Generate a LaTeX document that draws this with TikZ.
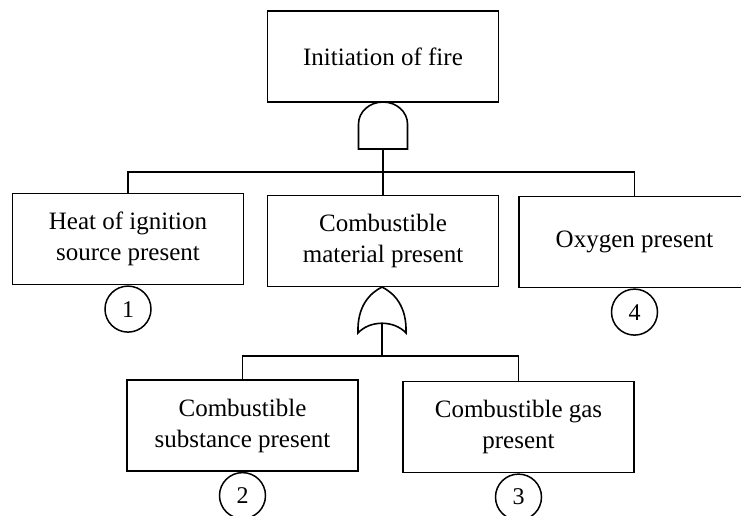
\documentclass[tikz,border=0pt]{standalone}
\usepackage{fontspec}
\setmainfont{Liberation Serif}
\usetikzlibrary{positioning}

\begin{document}
\begin{tikzpicture}[
    x=1pt, y=-1pt,
    event/.style={draw, line width=1.7pt, align=center, inner sep=2pt,
                  minimum width=231pt, minimum height=91pt,
                  font=\fontsize{25}{31}\selectfont},
    num/.style={draw, circle, line width=1.5pt, inner sep=0pt, minimum size=46pt,
                font=\fontsize{24}{24}\selectfont},
    gate/.style={draw, line width=1.6pt, fill=white},
    wire/.style={line width=1.6pt},
  ]
    \useasboundingbox (0,0) rectangle (741,516);
    \clip (0,0) rectangle (741,516);
    % ---- top event ----
    \node[event] (fire) at (383,56.5) {Initiation of fire};
    % ---- second level ----
    \node[event] (heat)     at (128,239)   {Heat of ignition\\source present};
    \node[event] (material) at (383,241)   {Combustible\\material present};
    \node[event] (oxygen)   at (634.5,242) {Oxygen present};
    % ---- third level ----
    \node[event] (substance) at (242.5,425.5) {Combustible\\substance present};
    \node[event] (gas)       at (518.5,427)   {Combustible gas\\present};
    % ---- basic event numbers ----
    \node[num, below=0pt of heat]      (n1) {1};
    \node[num, below=0pt of oxygen]    (n4) {4};
    \node[num, below=0pt of substance] (n2) {2};
    \node[num, below=0pt of gas]       (n3) {3};
    % ---- AND gate ----
    \coordinate (andout)  at (383,149);
    \coordinate (andjoin) at (383,172);
    \draw[gate] (358.5,149) -- (358.5,124)
        arc[start angle=180, end angle=360, x radius=24.5, y radius=22]
        -- (407.5,149) -- cycle;
    % ---- OR gate ----
    \coordinate (orout)  at (382,323);
    \coordinate (orjoin) at (382,356);
    \draw[gate] (358,333) .. controls (357,306) and (370,293) .. (382,287)
        .. controls (394,293) and (407,306) .. (406,333)
        .. controls (394,320) and (370,320) .. (358,333) -- cycle;
    % ---- connectors ----
    \draw[wire] (andout) -- (material.north);
    \draw[wire] (heat.north) |- (andjoin) -| (oxygen.north);
    \draw[wire] (orout) -- (orjoin);
    \draw[wire] (substance.north) |- (orjoin) -| (gas.north);
  \end{tikzpicture}
\end{document}
